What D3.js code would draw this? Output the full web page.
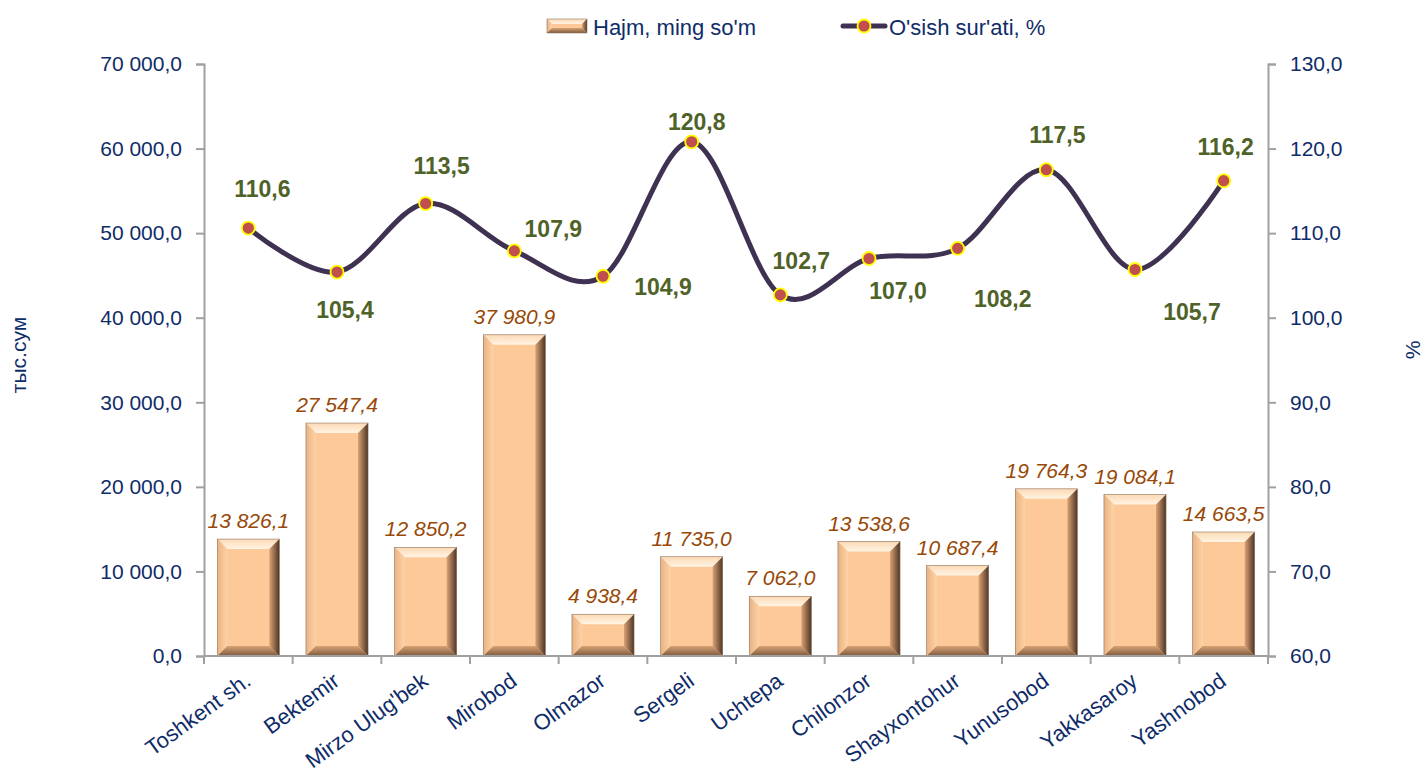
<!DOCTYPE html>
<html>
<head>
<meta charset="utf-8">
<script src="https://cdn.jsdelivr.net/npm/d3@7"></script>
<style>
  body { margin: 0; background: #fff; }
  svg { font-family: "Liberation Sans", Arial, sans-serif; }
</style>
</head>
<body>
<svg id="chart" width="1425" height="776"></svg>
<script>
// data
var districts = ["Toshkent sh.", "Bektemir", "Mirzo Ulug'bek", "Mirobod", "Olmazor", "Sergeli",
  "Uchtepa", "Chilonzor", "Shayxontohur", "Yunusobod", "Yakkasaroy", "Yashnobod"];
var volume = [13826.1, 27547.4, 12850.2, 37980.9, 4938.4, 11735.0, 7062.0, 13538.6, 10687.4, 19764.3, 19084.1, 14663.5];
var growth = [110.6, 105.4, 113.5, 107.9, 104.9, 120.8, 102.7, 107.0, 108.2, 117.5, 105.7, 116.2];
var leftTicks = [0, 10000, 20000, 30000, 40000, 50000, 60000, 70000];
var rightTicks = [60, 70, 80, 90, 100, 110, 120, 130];

// where the growth labels sit relative to their point (dx, dy)
var growthLabelOffset = [[14, -31], [8, 46], [16, -30], [39, -14], [60, 19], [5, -12],
  [21, -26], [29, 40], [45, 59], [11, -27], [57, 50], [2, -26]];

var navy = "#0f2c68";
var margin = { top: 64, right: 157, bottom: 120, left: 204 },
  width = 1425 - margin.left - margin.right,
  height = 776 - margin.top - margin.bottom;

// format like "13 826,1"
function fmt(v) {
  var s = v.toFixed(1).split(".");
  var intPart = s[0].replace(/\B(?=(\d{3})+(?!\d))/g, " ");
  return intPart + "," + s[1];
}

var svg = d3.select("#chart");
var defs = svg.append("defs");

var grRight = defs.append("linearGradient").attr("id", "bevR").attr("x1", 0).attr("x2", 1).attr("y1", 0).attr("y2", 0);
grRight.append("stop").attr("offset", "0%").attr("stop-color", "#d9a274");
grRight.append("stop").attr("offset", "100%").attr("stop-color", "#4e3526");
var grBottom = defs.append("linearGradient").attr("id", "bevB").attr("x1", 0).attr("x2", 0).attr("y1", 0).attr("y2", 1);
grBottom.append("stop").attr("offset", "0%").attr("stop-color", "#d8a275");
grBottom.append("stop").attr("offset", "100%").attr("stop-color", "#7d5a3e");
var grTop = defs.append("linearGradient").attr("id", "bevT").attr("x1", 0).attr("x2", 0).attr("y1", 0).attr("y2", 1);
grTop.append("stop").attr("offset", "0%").attr("stop-color", "#fcd9b4");
grTop.append("stop").attr("offset", "100%").attr("stop-color", "#fff4e4");
var grLeft = defs.append("linearGradient").attr("id", "bevL").attr("x1", 0).attr("x2", 1).attr("y1", 0).attr("y2", 0);
grLeft.append("stop").attr("offset", "0%").attr("stop-color", "#eab281");
grLeft.append("stop").attr("offset", "100%").attr("stop-color", "#fdd3a8");

var g = svg.append("g").attr("transform", "translate(" + margin.left + "," + margin.top + ")");

// scales
var x = d3.scaleBand().domain(districts).range([0, width]).paddingInner(0.3).paddingOuter(0.15);
var xc = d3.scalePoint().domain(districts).range([0, width]).padding(0.5);
var y = d3.scaleLinear().domain([0, 70000]).range([height, 0]);
var y2 = d3.scaleLinear().domain([60, 130]).range([height, 0]);

// draw one bevelled bar
function bevelBar(sel, bx, by, bw, bh, bev) {
  var b = Math.min(bev, bh / 2, bw / 2);
  sel.append("rect").attr("x", bx).attr("y", by).attr("width", bw).attr("height", bh).attr("fill", "#fdc998");
  var pts = function (arr) { return arr.map(function (p) { return p.join(","); }).join(" "); };
  sel.append("polygon").attr("fill", "url(#bevT)")
    .attr("points", pts([[bx, by], [bx + bw, by], [bx + bw - b, by + b], [bx + b, by + b]]));
  sel.append("polygon").attr("fill", "url(#bevL)")
    .attr("points", pts([[bx, by], [bx + b, by + b], [bx + b, by + bh - b], [bx, by + bh]]));
  sel.append("polygon").attr("fill", "url(#bevR)")
    .attr("points", pts([[bx + bw, by], [bx + bw, by + bh], [bx + bw - b, by + bh - b], [bx + bw - b, by + b]]));
  sel.append("polygon").attr("fill", "url(#bevB)")
    .attr("points", pts([[bx, by + bh], [bx + b, by + bh - b], [bx + bw - b, by + bh - b], [bx + bw, by + bh]]));
  sel.append("rect").attr("x", bx).attr("y", by).attr("width", bw).attr("height", bh)
    .attr("fill", "none").attr("stroke", "#8c7564").attr("stroke-width", 0.6);
}

// bars
var bars = g.selectAll(".bar").data(volume).enter().append("g").attr("class", "bar");
bars.each(function (d, i) {
  var bx = x(districts[i]);
  bevelBar(d3.select(this), bx, y(d), x.bandwidth(), height - y(d), 10);
});

g.selectAll(".barlabel").data(volume).enter().append("text")
  .attr("class", "barlabel")
  .attr("x", function (d, i) { return xc(districts[i]); })
  .attr("y", function (d) { return y(d) - 11; })
  .attr("text-anchor", "middle")
  .attr("font-size", 21)
  .attr("font-style", "italic")
  .attr("fill", "#984807")
  .text(function (d) { return fmt(d); });

// axes
var axisColor = "#a0a0a0";
var leftAxis = g.append("g").call(d3.axisLeft(y).tickValues(leftTicks).tickSize(8).tickPadding(14).tickFormat(fmt));
var rightAxis = g.append("g").attr("transform", "translate(" + width + ",0)")
  .call(d3.axisRight(y2).tickValues(rightTicks).tickSize(8).tickPadding(14).tickFormat(fmt));
[leftAxis, rightAxis].forEach(function (a) {
  a.select(".domain").attr("stroke", axisColor).attr("stroke-width", 2);
  a.selectAll(".tick line").attr("stroke", axisColor).attr("stroke-width", 2);
  a.selectAll(".tick text").attr("fill", navy).attr("font-size", 21).attr("font-family", "Liberation Sans, Arial, sans-serif");
});

var bottom = g.append("g").attr("transform", "translate(0," + height + ")");
bottom.append("line").attr("x1", 0).attr("x2", width).attr("stroke", axisColor).attr("stroke-width", 2);
bottom.selectAll(".bt").data(d3.range(districts.length + 1)).enter().append("line")
  .attr("x1", function (i) { return i * width / districts.length; })
  .attr("x2", function (i) { return i * width / districts.length; })
  .attr("y1", 0).attr("y2", 8)
  .attr("stroke", axisColor).attr("stroke-width", 2);
bottom.selectAll(".xl").data(districts).enter().append("text")
  .attr("transform", function (d) { return "translate(" + (xc(d) + 4) + ",28) rotate(-36)"; })
  .attr("text-anchor", "end")
  .attr("font-size", 22)
  .attr("fill", navy)
  .text(function (d) { return d; });

// axis titles
svg.append("text").attr("transform", "translate(26,355) rotate(-90)")
  .attr("text-anchor", "middle").attr("font-size", 21).attr("fill", navy).text("тыс.сум");
svg.append("text").attr("transform", "translate(1420,350) rotate(-90)")
  .attr("text-anchor", "middle").attr("font-size", 21).attr("fill", navy).text("%");

// growth line
var line = d3.line()
  .x(function (d, i) { return xc(districts[i]); })
  .y(function (d) { return y2(d); })
  .curve(d3.curveCatmullRom.alpha(0));
g.append("path").datum(growth).attr("d", line)
  .attr("fill", "none").attr("stroke", "#3f3151").attr("stroke-width", 5);
g.selectAll(".dot").data(growth).enter().append("circle")
  .attr("cx", function (d, i) { return xc(districts[i]); })
  .attr("cy", function (d) { return y2(d); })
  .attr("r", 6.5)
  .attr("fill", "#c0504d").attr("stroke", "#ffff00").attr("stroke-width", 1.8);
g.selectAll(".glabel").data(growth).enter().append("text")
  .attr("x", function (d, i) { return xc(districts[i]) + growthLabelOffset[i][0]; })
  .attr("y", function (d, i) { return y2(d) + growthLabelOffset[i][1]; })
  .attr("text-anchor", "middle")
  .attr("font-size", 23).attr("font-weight", "bold").attr("fill", "#4f6228")
  .text(function (d) { return fmt(d); });

// legend
var lg = svg.append("g");
bevelBar(lg, 547, 19, 40, 14, 5);
lg.append("text").attr("x", 593).attr("y", 35).attr("font-size", 22).attr("fill", navy).text("Hajm, ming so'm");
lg.append("line").attr("x1", 843).attr("x2", 885).attr("y1", 26).attr("y2", 26)
  .attr("stroke", "#3f3151").attr("stroke-width", 5).attr("stroke-linecap", "round");
lg.append("circle").attr("cx", 864).attr("cy", 26).attr("r", 6.5)
  .attr("fill", "#c0504d").attr("stroke", "#ffff00").attr("stroke-width", 1.8);
lg.append("text").attr("x", 889).attr("y", 35).attr("font-size", 22).attr("fill", navy).text("O'sish sur'ati, %");
</script>
</body>
</html>
